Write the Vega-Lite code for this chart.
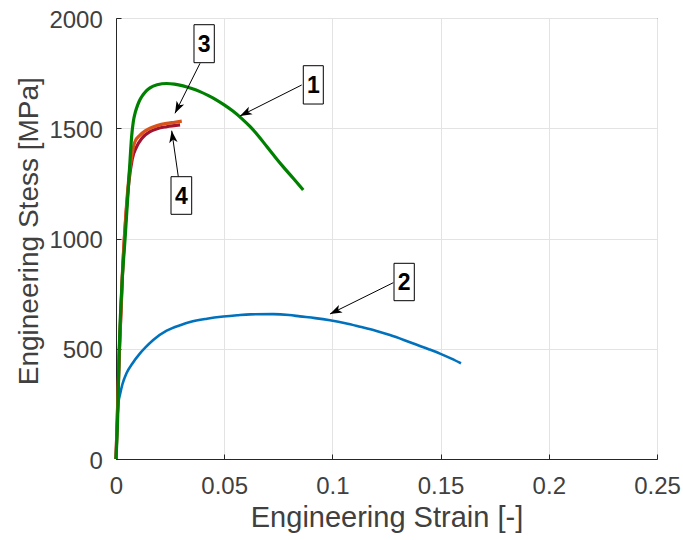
{
  "$schema": "https://vega.github.io/schema/vega-lite/v6.json",
  "width": 541,
  "height": 441,
  "autosize": {"type": "none"},
  "padding": {"left": 116, "top": 18, "right": 26, "bottom": 81},
  "background": "white",
  "config": {
    "view": {"stroke": "#262626", "strokeWidth": 1},
    "font": "Liberation Sans",
    "axis": {
      "domainColor": "#262626",
      "tickColor": "#262626",
      "tickSize": -5,
      "labelFont": "Liberation Sans",
      "labelFontSize": 24,
      "labelColor": "#404040",
      "labelFlush": false,
      "labelOverlap": false,
      "titleFont": "Liberation Sans",
      "titleFontWeight": "normal",
      "titleColor": "#404040",
      "gridColor": "#e3e3e3",
      "gridWidth": 1
    },
    "axisX": {"labelPadding": 39.3, "labelBaseline": "alphabetic", "titleY": 67.7, "titleBaseline": "alphabetic", "titleFontSize": 29},
    "axisY": {"labelPadding": 18.7, "labelOffset": 2, "titleX": -78.7, "titleY": 212.7, "titleBaseline": "alphabetic", "titleAngle": 270, "titleFontSize": 28}
  },
  "datasets": {
    "curves": [
      {"specimen": "1", "strain": 0, "stress": 0},
      {"specimen": "1", "strain": 0.0008, "stress": 200},
      {"specimen": "1", "strain": 0.0015, "stress": 500},
      {"specimen": "1", "strain": 0.0028, "stress": 800},
      {"specimen": "1", "strain": 0.0042, "stress": 1000},
      {"specimen": "1", "strain": 0.0055, "stress": 1200},
      {"specimen": "1", "strain": 0.0065, "stress": 1356},
      {"specimen": "1", "strain": 0.0072, "stress": 1460},
      {"specimen": "1", "strain": 0.008, "stress": 1530},
      {"specimen": "1", "strain": 0.009, "stress": 1575},
      {"specimen": "1", "strain": 0.01, "stress": 1605},
      {"specimen": "1", "strain": 0.011, "stress": 1628},
      {"specimen": "1", "strain": 0.0125, "stress": 1652},
      {"specimen": "1", "strain": 0.014, "stress": 1670},
      {"specimen": "1", "strain": 0.0157, "stress": 1683},
      {"specimen": "1", "strain": 0.019, "stress": 1697},
      {"specimen": "1", "strain": 0.0234, "stress": 1703},
      {"specimen": "1", "strain": 0.027, "stress": 1700},
      {"specimen": "1", "strain": 0.031, "stress": 1692},
      {"specimen": "1", "strain": 0.035, "stress": 1680},
      {"specimen": "1", "strain": 0.0388, "stress": 1666},
      {"specimen": "1", "strain": 0.0425, "stress": 1649},
      {"specimen": "1", "strain": 0.0465, "stress": 1628},
      {"specimen": "1", "strain": 0.05, "stress": 1606},
      {"specimen": "1", "strain": 0.054, "stress": 1578},
      {"specimen": "1", "strain": 0.058, "stress": 1545},
      {"specimen": "1", "strain": 0.062, "stress": 1507},
      {"specimen": "1", "strain": 0.066, "stress": 1463},
      {"specimen": "1", "strain": 0.0696, "stress": 1418},
      {"specimen": "1", "strain": 0.0735, "stress": 1370},
      {"specimen": "1", "strain": 0.0772, "stress": 1326},
      {"specimen": "1", "strain": 0.082, "stress": 1272},
      {"specimen": "1", "strain": 0.0865, "stress": 1220},
      {"specimen": "3", "strain": 0, "stress": 0},
      {"specimen": "3", "strain": 0.0015, "stress": 480},
      {"specimen": "3", "strain": 0.003, "stress": 850},
      {"specimen": "3", "strain": 0.0045, "stress": 1100},
      {"specimen": "3", "strain": 0.006, "stress": 1280},
      {"specimen": "3", "strain": 0.0072, "stress": 1370},
      {"specimen": "3", "strain": 0.0088, "stress": 1440},
      {"specimen": "3", "strain": 0.011, "stress": 1468},
      {"specimen": "3", "strain": 0.0135, "stress": 1488},
      {"specimen": "3", "strain": 0.0157, "stress": 1500},
      {"specimen": "3", "strain": 0.019, "stress": 1512},
      {"specimen": "3", "strain": 0.0234, "stress": 1522},
      {"specimen": "3", "strain": 0.027, "stress": 1527},
      {"specimen": "3", "strain": 0.0304, "stress": 1532},
      {"specimen": "4", "strain": 0, "stress": 0},
      {"specimen": "4", "strain": 0.0015, "stress": 470},
      {"specimen": "4", "strain": 0.003, "stress": 840},
      {"specimen": "4", "strain": 0.0045, "stress": 1090},
      {"specimen": "4", "strain": 0.006, "stress": 1260},
      {"specimen": "4", "strain": 0.0075, "stress": 1360},
      {"specimen": "4", "strain": 0.0095, "stress": 1416},
      {"specimen": "4", "strain": 0.012, "stress": 1455},
      {"specimen": "4", "strain": 0.0157, "stress": 1485},
      {"specimen": "4", "strain": 0.019, "stress": 1498},
      {"specimen": "4", "strain": 0.0234, "stress": 1507},
      {"specimen": "4", "strain": 0.0296, "stress": 1515},
      {"specimen": "2", "strain": 0, "stress": 0},
      {"specimen": "2", "strain": 0.0005, "stress": 150},
      {"specimen": "2", "strain": 0.0012, "stress": 260},
      {"specimen": "2", "strain": 0.0018, "stress": 290},
      {"specimen": "2", "strain": 0.003, "stress": 340},
      {"specimen": "2", "strain": 0.0049, "stress": 390},
      {"specimen": "2", "strain": 0.0075, "stress": 432},
      {"specimen": "2", "strain": 0.011, "stress": 478},
      {"specimen": "2", "strain": 0.0135, "stress": 505},
      {"specimen": "2", "strain": 0.0172, "stress": 540},
      {"specimen": "2", "strain": 0.0234, "stress": 582},
      {"specimen": "2", "strain": 0.03, "stress": 608},
      {"specimen": "2", "strain": 0.0342, "stress": 621},
      {"specimen": "2", "strain": 0.042, "stress": 636},
      {"specimen": "2", "strain": 0.0496, "stress": 646},
      {"specimen": "2", "strain": 0.056, "stress": 652},
      {"specimen": "2", "strain": 0.062, "stress": 656},
      {"specimen": "2", "strain": 0.0726, "stress": 657},
      {"specimen": "2", "strain": 0.08, "stress": 653},
      {"specimen": "2", "strain": 0.085, "stress": 647},
      {"specimen": "2", "strain": 0.092, "stress": 639},
      {"specimen": "2", "strain": 0.0989, "stress": 629},
      {"specimen": "2", "strain": 0.106, "stress": 616},
      {"specimen": "2", "strain": 0.1128, "stress": 600},
      {"specimen": "2", "strain": 0.12, "stress": 582},
      {"specimen": "2", "strain": 0.1266, "stress": 562},
      {"specimen": "2", "strain": 0.133, "stress": 540},
      {"specimen": "2", "strain": 0.139, "stress": 518},
      {"specimen": "2", "strain": 0.1445, "stress": 498},
      {"specimen": "2", "strain": 0.1497, "stress": 478},
      {"specimen": "2", "strain": 0.155, "stress": 455},
      {"specimen": "2", "strain": 0.1594, "stress": 434}
    ],
    "boxes": [
      {"label": "1", "strain": 0.08655, "strain2": 0.0958, "stress": 1609.9, "stress2": 1783.6, "cx": 0.09118, "cy": 1696.8},
      {"label": "2", "strain": 0.12847, "strain2": 0.13785, "stress": 717.9, "stress2": 887.5, "cx": 0.13316, "cy": 802.7},
      {"label": "3", "strain": 0.03604, "strain2": 0.04543, "stress": 1797.3, "stress2": 1969.6, "cx": 0.04074, "cy": 1883.4},
      {"label": "4", "strain": 0.02542, "strain2": 0.03498, "stress": 1109.7, "stress2": 1280.3, "cx": 0.0302, "cy": 1195}
    ],
    "arrows": [
      {"label": "1", "strain": 0.08581, "stress": 1696.2, "strain2": 0.0573, "stress2": 1555.6, "angle": 243.3},
      {"label": "2", "strain": 0.12814, "stress": 799.6, "strain2": 0.09889, "stress2": 657.6, "angle": 243.7},
      {"label": "3", "strain": 0.03882, "stress": 1794.5, "strain2": 0.02726, "stress2": 1567.8, "angle": 206.6},
      {"label": "4", "strain": 0.02879, "stress": 1280.3, "strain2": 0.02574, "stress2": 1488.9, "angle": 351.8}
    ]
  },
  "layer": [
    {
      "data": {"name": "curves"},
      "transform": [{"filter": "datum.specimen === '2'"}],
      "mark": {"type": "line", "color": "#0072BD", "strokeWidth": 2.6, "interpolate": "monotone"},
      "encoding": {
        "x": {"field": "strain", "type": "quantitative", "title": "Engineering Strain [-]", "scale": {"domain": [0, 0.25], "nice": false},
              "axis": {"values": [0, 0.05, 0.1, 0.15, 0.2, 0.25], "format": "~g", "grid": true}},
        "y": {"field": "stress", "type": "quantitative", "title": "Engineering Stess [MPa]", "scale": {"domain": [0, 2000], "nice": false},
              "axis": {"values": [0, 500, 1000, 1500, 2000], "format": "d", "grid": true}}
      }
    },
    {
      "data": {"name": "curves"},
      "transform": [{"filter": "datum.specimen === '4'"}],
      "mark": {"type": "line", "color": "#A2142F", "strokeWidth": 3.2, "interpolate": "monotone"},
      "encoding": {
        "x": {"field": "strain", "type": "quantitative", "title": "Engineering Strain [-]"},
        "y": {"field": "stress", "type": "quantitative", "title": "Engineering Stess [MPa]"}
      }
    },
    {
      "data": {"name": "curves"},
      "transform": [{"filter": "datum.specimen === '3'"}],
      "mark": {"type": "line", "color": "#D95319", "strokeWidth": 3.2, "interpolate": "monotone"},
      "encoding": {
        "x": {"field": "strain", "type": "quantitative", "title": "Engineering Strain [-]"},
        "y": {"field": "stress", "type": "quantitative", "title": "Engineering Stess [MPa]"}
      }
    },
    {
      "data": {"name": "curves"},
      "transform": [{"filter": "datum.specimen === '1'"}],
      "mark": {"type": "line", "color": "#008000", "strokeWidth": 3.2, "interpolate": "monotone"},
      "encoding": {
        "x": {"field": "strain", "type": "quantitative", "title": "Engineering Strain [-]"},
        "y": {"field": "stress", "type": "quantitative", "title": "Engineering Stess [MPa]"}
      }
    },
    {
      "data": {"name": "arrows"},
      "mark": {"type": "rule", "color": "black", "strokeWidth": 1},
      "encoding": {
        "x": {"field": "strain", "type": "quantitative", "title": "Engineering Strain [-]"},
        "y": {"field": "stress", "type": "quantitative", "title": "Engineering Stess [MPa]"},
        "x2": {"field": "strain2"},
        "y2": {"field": "stress2"}
      }
    },
    {
      "data": {"name": "arrows"},
      "mark": {"type": "point", "shape": "M0,0L-0.7,2L0,1.5L0.7,2Z", "filled": true, "color": "black", "opacity": 1, "size": 144, "strokeWidth": 0},
      "encoding": {
        "x": {"field": "strain2", "type": "quantitative", "title": "Engineering Strain [-]"},
        "y": {"field": "stress2", "type": "quantitative", "title": "Engineering Stess [MPa]"},
        "angle": {"field": "angle", "type": "quantitative", "scale": null}
      }
    },
    {
      "data": {"name": "boxes"},
      "mark": {"type": "rect", "fill": "white", "stroke": "black", "strokeWidth": 1},
      "encoding": {
        "x": {"field": "strain", "type": "quantitative", "title": "Engineering Strain [-]"},
        "x2": {"field": "strain2"},
        "y": {"field": "stress", "type": "quantitative", "title": "Engineering Stess [MPa]"},
        "y2": {"field": "stress2"}
      }
    },
    {
      "data": {"name": "boxes"},
      "mark": {"type": "text", "font": "Liberation Sans", "fontSize": 23, "fontWeight": "bold", "color": "black", "align": "center", "baseline": "middle", "dy": 1},
      "encoding": {
        "x": {"field": "cx", "type": "quantitative", "title": "Engineering Strain [-]"},
        "y": {"field": "cy", "type": "quantitative", "title": "Engineering Stess [MPa]"},
        "text": {"field": "label"}
      }
    }
  ]
}
